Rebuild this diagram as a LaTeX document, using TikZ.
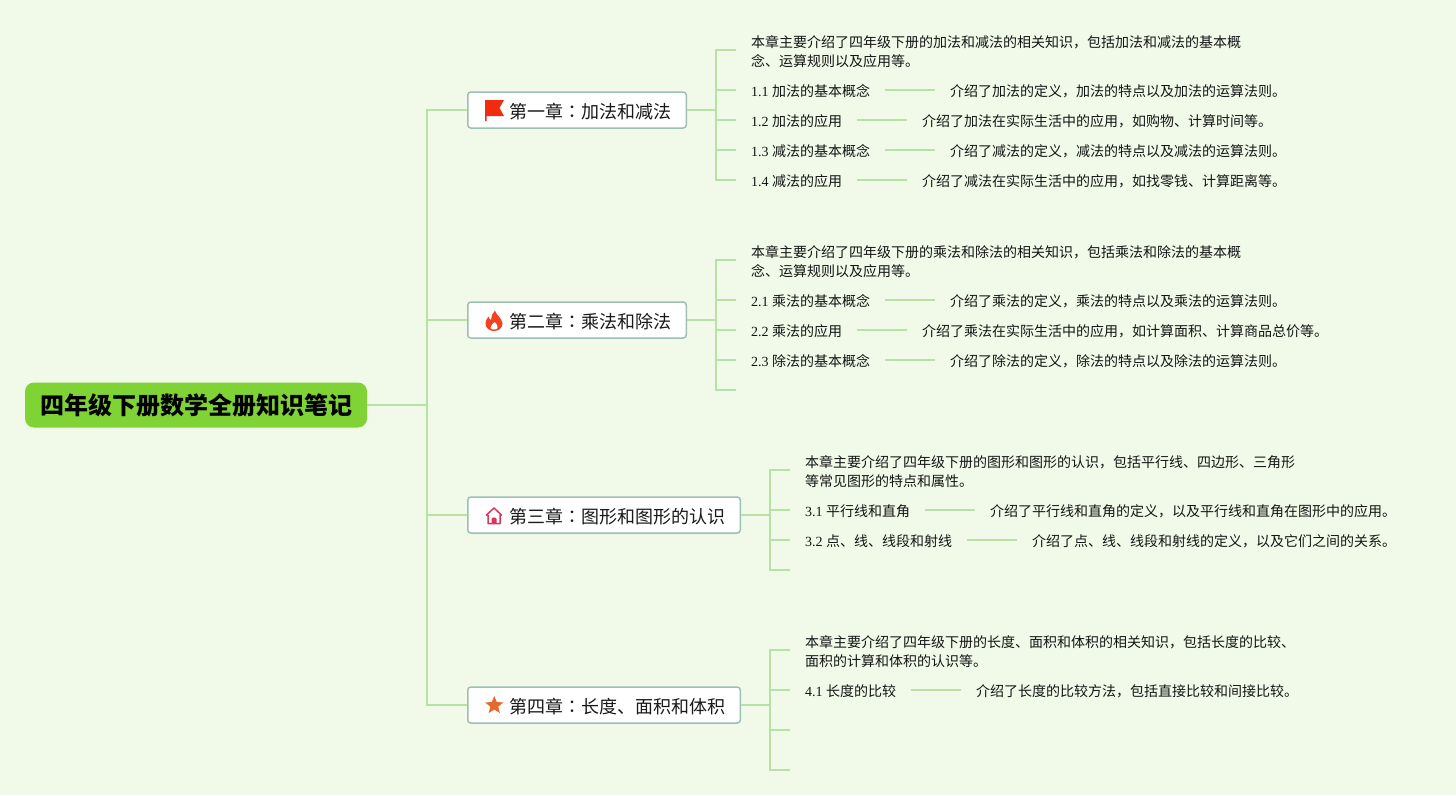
\documentclass[tikz,border=0pt]{standalone}
\usepackage{fontspec}
\setmainfont{Liberation Serif}
\newfontfamily\cjk{Noto Sans CJK SC}
\newfontfamily\cjktc{Noto Sans CJK TC}
\usetikzlibrary{calc}
\definecolor{bgc}{HTML}{F1FAE9}
\definecolor{linec}{HTML}{B6E2A6}
\definecolor{rootc}{HTML}{7FD335}
\definecolor{boxc}{HTML}{9CC0B3}
\definecolor{flagc}{HTML}{EF2B12}
\definecolor{firec}{HTML}{F5421E}
\definecolor{housec}{HTML}{D9355F}
\definecolor{starc}{HTML}{E56A30}
\tikzset{
  rootbox/.style={fill=rootc,rounded corners=9pt,minimum width=342pt,minimum height=45pt,inner sep=0pt,font=\cjk\bfseries\fontsize{24}{28}\selectfont,text=black},
  chapbox/.style={draw=boxc,line width=1.5pt,fill=white,rounded corners=3pt,minimum height=36pt,inner sep=0pt,anchor=west},
  chaptxt/.style={anchor=west,inner sep=0pt,font=\cjk\fontsize{18}{22}\selectfont,text=black!90},
  txt/.style={anchor=west,inner sep=0pt,text height=12.6pt,text depth=0pt,font=\fontsize{14}{19.5}\selectfont,text=black!92},
  para/.style={anchor=west,inner sep=0pt,align=left,font=\cjk\fontsize{14}{19.5}\selectfont,text=black!92},
  lnk/.style={draw=linec,line width=1.6pt},
  gap/.style={lnk,shorten <=15pt,shorten >=15pt},
}
\newcommand{\colonmark}{{\cjktc ：}}
\begin{document}
\begin{tikzpicture}[x=1pt,y=-1pt]
\useasboundingbox (0,0) rectangle (1456,795);
\fill[bgc] (0,0) rectangle (1456,795);

% root and chapters
\node[rootbox] (root) at (196,405) {\raisebox{-1.5pt}{四年级下册数学全册知识笔记}};
\node[chapbox,minimum width=218.5pt] (c1) at (467,110) {};
\node[chapbox,minimum width=218.5pt] (c2) at (467,320) {};
\node[chapbox,minimum width=272.5pt] (c3) at (467,515) {};
\node[chapbox,minimum width=272.5pt] (c4) at (467,705) {};
\node[chaptxt] (t1) at (509,111.5) {第一章\colonmark 加法和减法};
\node[chaptxt] (t2) at (509,321.5) {第二章\colonmark 乘法和除法};
\node[chaptxt] (t3) at (509,516.5) {第三章\colonmark 图形和图形的认识};
\node[chaptxt] (t4) at (509,706.5) {第四章\colonmark 长度、面积和体积};

% icons
\fill[flagc] (485,100) -- (504,100) -- (499.5,108) -- (504,116) -- (486.5,116) -- (486.5,121) -- (485,121) -- cycle;
\fill[firec] (495,310.5) .. controls (496,315) and (502,318) .. (502.5,323.5)
  .. controls (502.5,328) and (498.5,331) .. (494,331)
  .. controls (489.5,331) and (485.5,328) .. (485.5,323.5)
  .. controls (485.5,320.5) and (487,318.5) .. (488.5,316.5)
  .. controls (489,318) and (489.5,319.5) .. (491,320)
  .. controls (491,316.5) and (492.5,313) .. (495,310.5) -- cycle;
\fill[white] (494.5,322) .. controls (497,324) and (498,326) .. (497.5,328)
  .. controls (497,330) and (491,330) .. (490.5,328)
  .. controls (490,326) and (492.5,324.5) .. (494.5,322) -- cycle;
\draw[draw=housec,line width=1.5pt,line join=round] (486.5,515) -- (494,508) -- (501.5,515) -- (500,515) -- (500,523.5) -- (488,523.5) -- (488,515) -- cycle;
\fill[housec] (491.5,523.5) -- (491.5,519) -- (492.5,517.5) -- (495.5,517.5) -- (496.5,519) -- (496.5,523.5) -- cycle;
\fill[starc] (494.3,696) -- (496.8,702) -- (503.3,702.5) -- (498.3,706.7) -- (499.9,713) -- (494.3,709.6) -- (488.7,713) -- (490.3,706.7) -- (485.3,702.5) -- (491.8,702) -- cycle;

% chapter 1
\node[para] (p1) at (751,51.5) {本章主要介绍了四年级下册的加法和减法的相关知识，包括加法和减法的基本概\\念、运算规则以及应用等。};
\node[txt] (a11) at (751,90) {1.1 {\cjk 加法的基本概念}};
\node[txt] (b11) at (950,90) {\cjk 介绍了加法的定义，加法的特点以及加法的运算法则。};
\node[txt] (a12) at (751,120) {1.2 {\cjk 加法的应用}};
\node[txt] (b12) at (922,120) {\cjk 介绍了加法在实际生活中的应用，如购物、计算时间等。};
\node[txt] (a13) at (751,150) {1.3 {\cjk 减法的基本概念}};
\node[txt] (b13) at (950,150) {\cjk 介绍了减法的定义，减法的特点以及减法的运算法则。};
\node[txt] (a14) at (751,180) {1.4 {\cjk 减法的应用}};
\node[txt] (b14) at (922,180) {\cjk 介绍了减法在实际生活中的应用，如找零钱、计算距离等。};

% chapter 2
\node[para] (p2) at (751,261.5) {本章主要介绍了四年级下册的乘法和除法的相关知识，包括乘法和除法的基本概\\念、运算规则以及应用等。};
\node[txt] (a21) at (751,300) {2.1 {\cjk 乘法的基本概念}};
\node[txt] (b21) at (950,300) {\cjk 介绍了乘法的定义，乘法的特点以及乘法的运算法则。};
\node[txt] (a22) at (751,330) {2.2 {\cjk 乘法的应用}};
\node[txt] (b22) at (922,330) {\cjk 介绍了乘法在实际生活中的应用，如计算面积、计算商品总价等。};
\node[txt] (a23) at (751,360) {2.3 {\cjk 除法的基本概念}};
\node[txt] (b23) at (950,360) {\cjk 介绍了除法的定义，除法的特点以及除法的运算法则。};
\coordinate (e24) at (736,390);

% chapter 3
\node[para] (p3) at (805,471.5) {本章主要介绍了四年级下册的图形和图形的认识，包括平行线、四边形、三角形\\等常见图形的特点和属性。};
\node[txt] (a31) at (805,510) {3.1 {\cjk 平行线和直角}};
\node[txt] (b31) at (990,510) {\cjk 介绍了平行线和直角的定义，以及平行线和直角在图形中的应用。};
\node[txt] (a32) at (805,540) {3.2 {\cjk 点、线、线段和射线}};
\node[txt] (b32) at (1032,540) {\cjk 介绍了点、线、线段和射线的定义，以及它们之间的关系。};
\coordinate (e33) at (790,570);

% chapter 4
\node[para] (p4) at (805,651.5) {本章主要介绍了四年级下册的长度、面积和体积的相关知识，包括长度的比较、\\面积的计算和体积的认识等。};
\node[txt] (a41) at (805,690) {4.1 {\cjk 长度的比较}};
\node[txt] (b41) at (976,690) {\cjk 介绍了长度的比较方法，包括直接比较和间接比较。};
\coordinate (e42) at (790,730);
\coordinate (e43) at (790,770);

% trunk
\coordinate (tr) at (427,405);
\draw[lnk] (root.east) -- (tr);
\draw[lnk,line join=miter] (c1.west) -- (tr |- c1.west) -- (tr |- c4.west) -- (c4.west);
\draw[lnk] (tr |- c2.west) -- (c2.west);
\draw[lnk] (tr |- c3.west) -- (c3.west);

% branch points and stub ends
\coordinate (j1) at (716,110);
\coordinate (j2) at (716,320);
\coordinate (j3) at (770,515);
\coordinate (j4) at (770,705);
\coordinate (s1) at ($(p1.west)+(-15,-1.5)$);
\coordinate (s2) at ($(p2.west)+(-15,-1.5)$);
\coordinate (s3) at ($(p3.west)+(-15,-1.5)$);
\coordinate (s4) at ($(p4.west)+(-15,-1.5)$);

% chapter 1
\draw[lnk] (c1.east) -- (j1);
\draw[lnk] (s1) -- (j1 |- s1) -- (j1);
\foreach \n in {a11,a12,a13} {\draw[lnk,shorten <=15pt] (\n.west) -- (j1 |- \n.west);}
\draw[lnk] ($(a14.west)+(-15,0)$) -- (j1 |- a14.west) -- (j1);
% chapter 2
\draw[lnk] (c2.east) -- (j2);
\draw[lnk] (s2) -- (j2 |- s2) -- (j2);
\foreach \n in {a21,a22,a23} {\draw[lnk,shorten <=15pt] (\n.west) -- (j2 |- \n.west);}
\draw[lnk] (e24) -- (j2 |- e24) -- (j2);
% chapter 3
\draw[lnk] (c3.east) -- (j3);
\draw[lnk] (s3) -- (j3 |- s3) -- (j3);
\foreach \n in {a31,a32} {\draw[lnk,shorten <=15pt] (\n.west) -- (j3 |- \n.west);}
\draw[lnk] (e33) -- (j3 |- e33) -- (j3);
% chapter 4
\draw[lnk] (c4.east) -- (j4);
\draw[lnk] (s4) -- (j4 |- s4) -- (j4);
\draw[lnk,shorten <=15pt] (a41.west) -- (j4 |- a41.west);
\draw[lnk] (e42) -- (j4 |- e42);
\draw[lnk] (e43) -- (j4 |- e43) -- (j4);

% label to description links
\foreach \n in {11,12,13,14,21,22,23,31,32,41} {\draw[gap] (a\n.east) -- (b\n.west);}
\end{tikzpicture}
\end{document}
